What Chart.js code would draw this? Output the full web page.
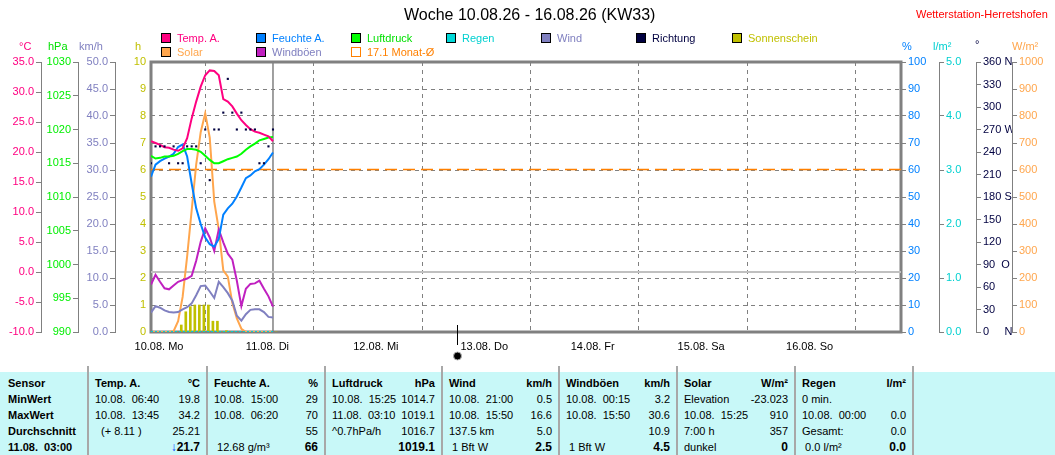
<!DOCTYPE html>
<html>
<head>
<meta charset="utf-8">
<script src="https://cdn.jsdelivr.net/npm/chart.js@4.4.1/dist/chart.umd.min.js"></script>
<style>
body { margin: 0; background: #fff; font-family: 'Liberation Sans', Arial, sans-serif; font-size: 11px; overflow: hidden; width: 1055px; height: 455px; position: relative; }
#wetterChart { position: absolute; left: 0; top: 0; }
.abs { position: absolute; white-space: pre; }
.lg { position: absolute; height: 12px; line-height: 12px; display: flex; align-items: center; white-space: pre; }
.bx { display: inline-block; width: 8px; height: 8px; border: 1px solid #000; margin-right: 6px; }
#tab { position: absolute; left: 0; top: 366px; width: 1055px; height: 89px; }
#tabbg { position: absolute; left: 0; top: 6px; width: 1055px; height: 83px; background: #c8f8f8; }
.sep { position: absolute; top: 0; width: 2px; height: 89px; background: #a8a8a8; }
.zl { position: absolute; height: 16px; line-height: 16px; white-space: pre; }
</style>
</head>
<body>
<canvas id="wetterChart" width="1055" height="368"></canvas>

<div class="abs" style="left:404px;top:6px;font-size:16px;color:#000">Woche 10.08.26 - 16.08.26 (KW33)</div>
<div class="abs" style="left:916px;top:8px;color:#ff0000">Wetterstation-Herretshofen</div>

<div class="lg" style="left:161px;top:32px"><span class="bx" style="background:#ff0080"></span><span style="color:#ff0080">Temp. A.</span></div>
<div class="lg" style="left:256px;top:32px"><span class="bx" style="background:#0080ff"></span><span style="color:#0080ff">Feuchte A.</span></div>
<div class="lg" style="left:351px;top:32px"><span class="bx" style="background:#00ff00"></span><span style="color:#00e000">Luftdruck</span></div>
<div class="lg" style="left:446px;top:32px"><span class="bx" style="background:#00d8d8"></span><span style="color:#00d0d0">Regen</span></div>
<div class="lg" style="left:541px;top:32px"><span class="bx" style="background:#8080c0"></span><span style="color:#8080c0">Wind</span></div>
<div class="lg" style="left:636px;top:32px"><span class="bx" style="background:#000040"></span><span style="color:#000040">Richtung</span></div>
<div class="lg" style="left:732px;top:32px"><span class="bx" style="background:#c0c000"></span><span style="color:#c0c000">Sonnenschein</span></div>
<div class="lg" style="left:161px;top:46px"><span class="bx" style="background:#ffa64d"></span><span style="color:#ffa64d">Solar</span></div>
<div class="lg" style="left:256px;top:46px"><span class="bx" style="background:#c020c0"></span><span style="color:#8080c0">Windböen</span></div>
<div class="lg" style="left:351px;top:46px"><span class="bx" style="background:#fff;border-color:#ff8000"></span><span style="color:#ff8000">17.1 Monat-Ø</span></div>

<div class="abs" style="left:19px;top:40px;color:#ff0080">°C</div>
<div class="abs" style="left:48px;top:40px;color:#00e000">hPa</div>
<div class="abs" style="left:79px;top:40px;color:#8080c0">km/h</div>
<div class="abs" style="left:135px;top:40px;color:#c0c000">h</div>
<div class="abs" style="left:902px;top:40px;color:#0080ff">%</div>
<div class="abs" style="left:933px;top:40px;color:#00d0d0">l/m²</div>
<div class="abs" style="left:975px;top:38px;color:#000040">°</div>
<div class="abs" style="left:1012px;top:40px;color:#ffa64d">W/m²</div>

<div id="tab"><div id="tabbg"></div></div>

<script>
// Stundenwerte 10.08. 00:00 bis 11.08. 03:00
const hours = [0, 1, 2, 3, 4, 5, 6, 7, 8, 9, 10, 11, 12, 13, 14, 15, 16, 17, 18, 19, 20, 21, 22, 23, 24, 25, 26, 27];
const tempA = [21.8, 21.5, 21.2, 20.8, 20.7, 20.4, 20.2, 20.6, 22.3, 25.6, 28.4, 30.9, 32.8, 33.6, 33.5, 32.8, 28.8, 28.4, 27.6, 26.4, 25.3, 24.5, 23.8, 23.4, 23.2, 22.9, 22.6, 21.8];
const feuchte = [57.5, 62, 63.3, 64.2, 65, 66, 68.5, 69.5, 65, 55, 45.8, 40, 35, 32.5, 31.6, 34.5, 43.5, 45.8, 47.5, 50.2, 53.5, 57, 58, 59.5, 60.3, 62, 64, 66.5];
const luftdruck = [1016.1, 1015.7, 1015.8, 1016.0, 1016.0, 1016.1, 1016.4, 1016.8, 1017.1, 1017.1, 1017.0, 1016.7, 1016.1, 1015.5, 1015.0, 1015.0, 1015.3, 1015.6, 1015.8, 1016.0, 1016.4, 1017.0, 1017.5, 1017.9, 1018.4, 1018.6, 1018.8, 1018.9];
const windboeen = [8.8, 10.6, 9.3, 8.1, 7.9, 8.6, 9.3, 9.6, 9.9, 10.4, 13.2, 16.7, 19.2, 17.5, 15.0, 19.0, 16.6, 14.5, 13.4, 9.5, 4.8, 8.0, 8.9, 9.0, 9.5, 8.0, 6.6, 4.7];
const wind = [3.6, 4.8, 4.5, 4.0, 3.7, 3.6, 3.7, 4.2, 4.6, 5.3, 6.8, 8.5, 8.6, 7.5, 6.3, 9.3, 8.3, 7.2, 5.8, 3.0, 2.1, 3.3, 4.1, 4.2, 4.2, 3.7, 2.8, 2.7];
const solar = [0, 0, 0, 0, 0, 3, 40, 130, 280, 450, 620, 740, 810, 720, 483, 380, 228, 205, 108, 50, 12, 0, 0, 0, 0, 0, 0, 0];
const richtung = [225, 247.5, 247.5, 247.5, 225, 247.5, 225, 225, 247.5, 247.5, 247.5, 225, 270, 202.5, 270, 270, 292.5, 337.5, 292.5, 270, 292.5, 270, 270, 270, 225, 225, 247.5, 270];
const regen = [0, 0, 0, 0, 0, 0, 0, 0, 0, 0, 0, 0, 0, 0, 0, 0, 0, 0, 0, 0, 0, 0, 0, 0, 0, 0, 0, 0];
const sonne = [0, 0, 0, 0, 0, 0, 0.26, 0.75, 0.94, 1, 1, 1, 1, 0.4, 0.4, 0, 0.05, 0, 0, 0, 0, 0, 0, 0, 0, 0, 0, 0];
const monatMittel = 17.1;
const jetztStunde = 27;
const neumondStunde = 67.7;
const wocheStunden = 166;

const tageTicks = [0, 24, 48, 72, 96, 120, 144];
const tageLabels = ['10.08. Mo', '11.08. Di', '12.08. Mi', '13.08. Do', '14.08. Fr', '15.08. Sa', '16.08. So'];
const tempTicks = [-10, -5, 0, 5, 10, 15, 20, 25, 30, 35];
const hpaTicks = [990, 995, 1000, 1005, 1010, 1015, 1020, 1025, 1030];
const kmhTicks = [0, 5, 10, 15, 20, 25, 30, 35, 40, 45, 50];
const stdTicks = [0, 1, 2, 3, 4, 5, 6, 7, 8, 9, 10];
const feuchteTicks = [0, 10, 20, 30, 40, 50, 60, 70, 80, 90, 100];
const regenTicks = [0, 1, 2, 3, 4, 5];
const richtungTicks = [0, 30, 60, 90, 120, 150, 180, 210, 240, 270, 300, 330, 360];
const richtungLabels = ['0     N', '30', '60', '90  O', '120', '150', '180 S', '210', '240', '270 W', '300', '330', '360 N'];
const solarTicks = [0, 100, 200, 300, 400, 500, 600, 700, 800, 900, 1000];

Chart.defaults.font.family = "'Liberation Sans', Arial, sans-serif";
Chart.defaults.font.size = 11;

function pts(arr) {
    return hours.map((h, i) => ({ x: h, y: arr[i] }));
}

function achse(pos, weight, breite, farbe, ticks, fmt) {
    return {
        type: 'linear',
        position: pos,
        weight: weight,
        min: ticks[0],
        max: ticks[ticks.length - 1],
        afterFit: s => { s.width = breite; },
        afterBuildTicks: s => { s.ticks = ticks.map(v => ({ value: v })); },
        grid: { drawOnChartArea: false, color: '#808080', tickLength: 5 },
        border: { color: '#808080', width: 1 },
        ticks: { color: farbe, padding: 2, callback: fmt }
    };
}

const rahmen = {
    id: 'rahmen',
    beforeDatasetsDraw(chart) {
        const a = chart.chartArea;
        const c = chart.ctx;
        c.save();
        c.strokeStyle = '#808080';
        c.lineWidth = 3;
        c.strokeRect(a.left, a.top, a.right - a.left, a.bottom - a.top);
        const x = chart.scales.x.getPixelForValue(jetztStunde);
        c.lineWidth = 1.5;
        c.beginPath();
        c.moveTo(x, a.top);
        c.lineTo(x, a.bottom);
        c.stroke();
        c.restore();
    },
    afterDraw(chart) {
        const a = chart.chartArea;
        const c = chart.ctx;
        const x = Math.round(chart.scales.x.getPixelForValue(neumondStunde)) + 0.5;
        c.save();
        c.strokeStyle = '#000';
        c.lineWidth = 1;
        c.beginPath();
        c.moveTo(x, a.bottom - 7);
        c.lineTo(x, a.bottom + 13);
        c.stroke();
        c.beginPath();
        c.arc(x, a.bottom + 24, 4, 0, Math.PI * 2);
        c.fillStyle = '#000';
        c.fill();
        c.strokeStyle = '#b0b0b0';
        c.stroke();
        c.restore();
    }
};

const ctx = document.getElementById('wetterChart');
let myChart = new Chart(ctx, {
    type: 'line',
    data: {
        datasets: [
            { label: 'Richtung', data: pts(richtung), yAxisID: 'dir', showLine: false, pointStyle: 'rect', pointRadius: 1.5, pointBorderWidth: 0, pointBackgroundColor: '#000040' },
            { label: 'Regen', data: pts(regen), yAxisID: 'rain', borderColor: '#00d0d0', borderWidth: 2, borderDash: [2, 2] },
            { label: 'Temp. A.', data: pts(tempA), yAxisID: 'temp', borderColor: '#ff0080', borderWidth: 2 },
            { label: 'Luftdruck', data: pts(luftdruck), yAxisID: 'hpa', borderColor: '#00ff00', borderWidth: 2 },
            { label: 'Feuchte A.', data: pts(feuchte), yAxisID: 'hum', borderColor: '#0080ff', borderWidth: 2 },
            { label: 'Windböen', data: pts(windboeen), yAxisID: 'kmh', borderColor: '#c020c0', borderWidth: 2 },
            { label: 'Wind', data: pts(wind), yAxisID: 'kmh', borderColor: '#8080c0', borderWidth: 2 },
            { label: 'Solar', data: pts(solar), yAxisID: 'sol', borderColor: '#ffa64d', borderWidth: 2 },
            { type: 'bar', label: 'Sonnenschein', data: hours.map((h, i) => ({ x: h + 0.7, y: sonne[i] })), yAxisID: 'std', backgroundColor: '#c0c000', borderWidth: 0, barThickness: 2 },
            { label: '17.1 Monat-Ø', data: [{ x: 0, y: monatMittel }, { x: wocheStunden, y: monatMittel }], yAxisID: 'temp', borderColor: '#ff8000', borderWidth: 1.5, borderDash: [12, 6] },
            { label: '0 °C', data: [{ x: 0, y: 0 }, { x: wocheStunden, y: 0 }], yAxisID: 'temp', borderColor: '#c0c0c0', borderWidth: 2 }
        ]
    },
    options: {
        responsive: false,
        animation: false,
        layout: { padding: { top: 62, left: 0, right: 0, bottom: 0 } },
        plugins: { legend: { display: false }, tooltip: { enabled: false } },
        elements: { point: { radius: 0 }, line: { tension: 0 } },
        scales: {
            x: {
                type: 'linear',
                min: 0,
                max: wocheStunden,
                offset: false,
                afterFit: s => { s.height = 36; },
                afterBuildTicks: s => { s.ticks = tageTicks.map(v => ({ value: v })); },
                grid: { color: '#808080', drawTicks: false },
                border: { display: false, dash: [4, 4] },
                ticks: { color: '#000', padding: 8, labelOffset: 8, maxRotation: 0, autoSkip: false, callback: (v, i) => tageLabels[i] }
            },
            std: {
                type: 'linear',
                position: 'left',
                weight: 0,
                min: 0,
                max: 10,
                afterFit: s => { s.width = 36; },
                afterBuildTicks: s => { s.ticks = stdTicks.map(v => ({ value: v })); },
                grid: { color: '#808080', drawTicks: false },
                border: { display: false, dash: [4, 4] },
                ticks: { color: '#c0c000', padding: 5 }
            },
            kmh: achse('left', 1, 37, '#8080c0', kmhTicks, v => v.toFixed(1)),
            hpa: achse('left', 2, 37, '#00ee00', hpaTicks, v => v),
            temp: achse('left', 3, 41, '#ff0080', tempTicks, v => v.toFixed(1)),
            hum: Object.assign(achse('right', 0, 38, '#0080ff', feuchteTicks, v => v), { border: { display: false } }),
            rain: achse('right', 1, 37, '#00d0d0', regenTicks, v => v.toFixed(1)),
            dir: achse('right', 2, 36, '#000040', richtungTicks, (v, i) => richtungLabels[i]),
            sol: achse('right', 3, 43, '#ffa64d', solarTicks, v => v)
        }
    },
    plugins: [rahmen]
});

// Tabelle unter der Grafik
const trenner = [88, 207, 325, 442, 559, 677, 795, 913];
const zeilenNamen = ['Sensor', 'MinWert', 'MaxWert', 'Durchschnitt', '11.08.  03:00'];
const gruppen = [
    [['Temp. A.', '°C'], ['10.08.  06:40', '19.8'], ['10.08.  13:45', '34.2'], ['  (+ 8.11 )', '25.21'], ['', '<span style="color:#0040ff">↓</span><b>21.7</b>']],
    [['Feuchte A.', '%'], ['10.08.  15:00', '29'], ['10.08.  06:20', '70'], ['', '55'], [' 12.68 g/m³', '<b>66</b>']],
    [['Luftdruck', 'hPa'], ['10.08.  15:25', '1014.7'], ['11.08.  03:10', '1019.1'], ['^0.7hPa/h', '1016.7'], ['', '<b>1019.1</b>']],
    [['Wind', 'km/h'], ['10.08.  21:00', '0.5'], ['10.08.  15:50', '16.6'], ['137.5 km', '5.0'], [' 1 Bft W', '<b>2.5</b>']],
    [['Windböen', 'km/h'], ['10.08.  00:15', '3.2'], ['10.08.  15:50', '30.6'], ['', '10.9'], [' 1 Bft W', '<b>4.5</b>']],
    [['Solar', 'W/m²'], ['Elevation', '-23.023'], ['10.08.  15:25', '910'], ['7:00 h', '357'], ['dunkel', '<b>0</b>']],
    [['Regen', 'l/m²'], ['0 min.', ''], ['10.08.  00:00', '0.0'], ['Gesamt:', '0.0'], [' 0.0 l/m²', '<b>0.0</b>']]
];

const tab = document.getElementById('tab');
let html = '';
for (let r = 0; r < 5; r++) {
    html += `<div class="zl" style="left:8px;top:${9 + r * 16}px;font-weight:bold">${zeilenNamen[r]}</div>`;
}
for (let g = 0; g < gruppen.length; g++) {
    const links = trenner[g];
    const breite = trenner[g + 1] - trenner[g];
    for (let r = 0; r < 5; r++) {
        const fett = r == 0 ? 'font-weight:bold;' : '';
        const gross = r == 4 ? 'font-size:12px;' : '';
        html += `<div class="zl" style="left:${links + 7}px;top:${9 + r * 16}px;${fett}">${gruppen[g][r][0]}</div>`;
        html += `<div class="zl" style="left:${links}px;width:${breite - 7}px;text-align:right;top:${9 + r * 16}px;${fett}${gross}">${gruppen[g][r][1]}</div>`;
    }
}
for (const x of trenner) {
    html += `<div class="sep" style="left:${x - 1}px"></div>`;
}
tab.innerHTML += html;
</script>
</body>
</html>
